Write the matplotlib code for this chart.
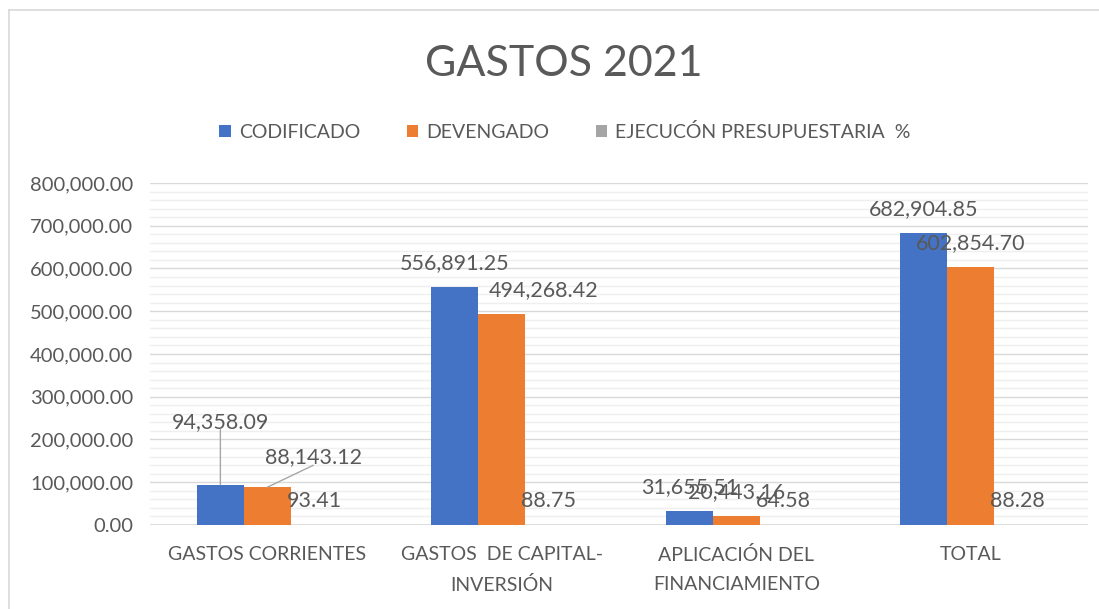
import matplotlib
matplotlib.use("Agg")
import matplotlib.pyplot as plt
import numpy as np
from matplotlib.ticker import MultipleLocator, FuncFormatter
from matplotlib.patches import Patch
from matplotlib.lines import Line2D

# data
categories = ["GASTOS CORRIENTES", "GASTOS  DE CAPITAL-\nINVERSIÓN",
              "APLICACIÓN DEL\nFINANCIAMIENTO", "TOTAL"]
codificado = [94358.09, 556891.25, 31655.51, 682904.85]
devengado = [88143.12, 494268.42, 20443.16, 602854.70]
ejecucion = [93.41, 88.75, 64.58, 88.28]
series_names = ["CODIFICADO", "DEVENGADO", "EJECUCÓN PRESUPUESTARIA  %"]

colors = ["#4472C4", "#ED7D31", "#A5A5A5"]
txt = "#595959"

plt.rcParams["font.family"] = ["Lato", "DejaVu Sans"]

fig = plt.figure(figsize=(10.99, 6.09), dpi=100)
ax = fig.add_axes([0.1365, 0.138, 0.8535, 0.5615])

x = np.arange(len(categories))
w = 0.2
all_series = [codificado, devengado, ejecucion]
for k, vals in enumerate(all_series):
    ax.bar(x + (k - 1) * w, vals, w, color=colors[k], zorder=3)

ax.set_xlim(-0.5, 3.5)
ax.set_ylim(0, 800000)
ax.yaxis.set_major_locator(MultipleLocator(100000))
ax.yaxis.set_minor_locator(MultipleLocator(20000))
ax.yaxis.set_major_formatter(FuncFormatter(lambda v, p: f"{v:,.2f}"))
ax.grid(axis="y", which="major", color="#D9D9D9", lw=1, zorder=0)
ax.grid(axis="y", which="minor", color="#EFEFEF", lw=1, zorder=0)
for s in ax.spines.values():
    s.set_visible(False)
ax.axhline(0, color="#D9D9D9", lw=1.2, zorder=2)
ax.tick_params(axis="y", which="both", length=0, pad=12, labelsize=14.5, labelcolor=txt)
ax.tick_params(axis="x", length=0, pad=15, labelsize=14, labelcolor=txt)
ax.set_xticks(x)
ax.set_xticklabels(categories, linespacing=1.85)

# label offsets in pixels (dx, dy from bar top), moved labels as in the reference
offsets = {(0, 0): (0, 63), (0, 1): (46, 30), (1, 1): (42, 24)}
leaders = [(0, 0), (0, 1)]
for k, vals in enumerate(all_series):
    for i, v in enumerate(vals):
        dx, dy = offsets.get((i, k), (0, 24))
        xc = x[i] + (k - 1) * w
        kw = {}
        if (i, k) in leaders:
            kw["arrowprops"] = dict(arrowstyle="-", color="#A6A6A6", lw=1,
                                    relpos=(0.5, 0.1), patchA=None,
                                    shrinkA=0, shrinkB=0)
        ax.annotate(f"{v:,.2f}", xy=(xc, v), xytext=(dx, dy),
                    textcoords="offset pixels", ha="center", va="center",
                    fontsize=15.5, color=txt, zorder=5, **kw)

fig.text(0.513, 0.895, "GASTOS 2021", ha="center", va="center",
         fontsize=31, color=txt)

handles = [Patch(facecolor=c, edgecolor="none") for c in colors]
fig.legend(handles, series_names, loc="center", bbox_to_anchor=(0.514, 0.783),
           ncol=3, frameon=False, fontsize=14, labelcolor=txt,
           handlelength=0.6, handleheight=0.6, handletextpad=0.4,
           columnspacing=2.4)

# outer chart border
fig.add_artist(Line2D([0.008, 0.008], [0, 0.984], color="#D9D9D9", lw=1.2))
fig.add_artist(Line2D([0.008, 1], [0.984, 0.984], color="#D9D9D9", lw=1.2))

fig.savefig("out.png", dpi=100)
